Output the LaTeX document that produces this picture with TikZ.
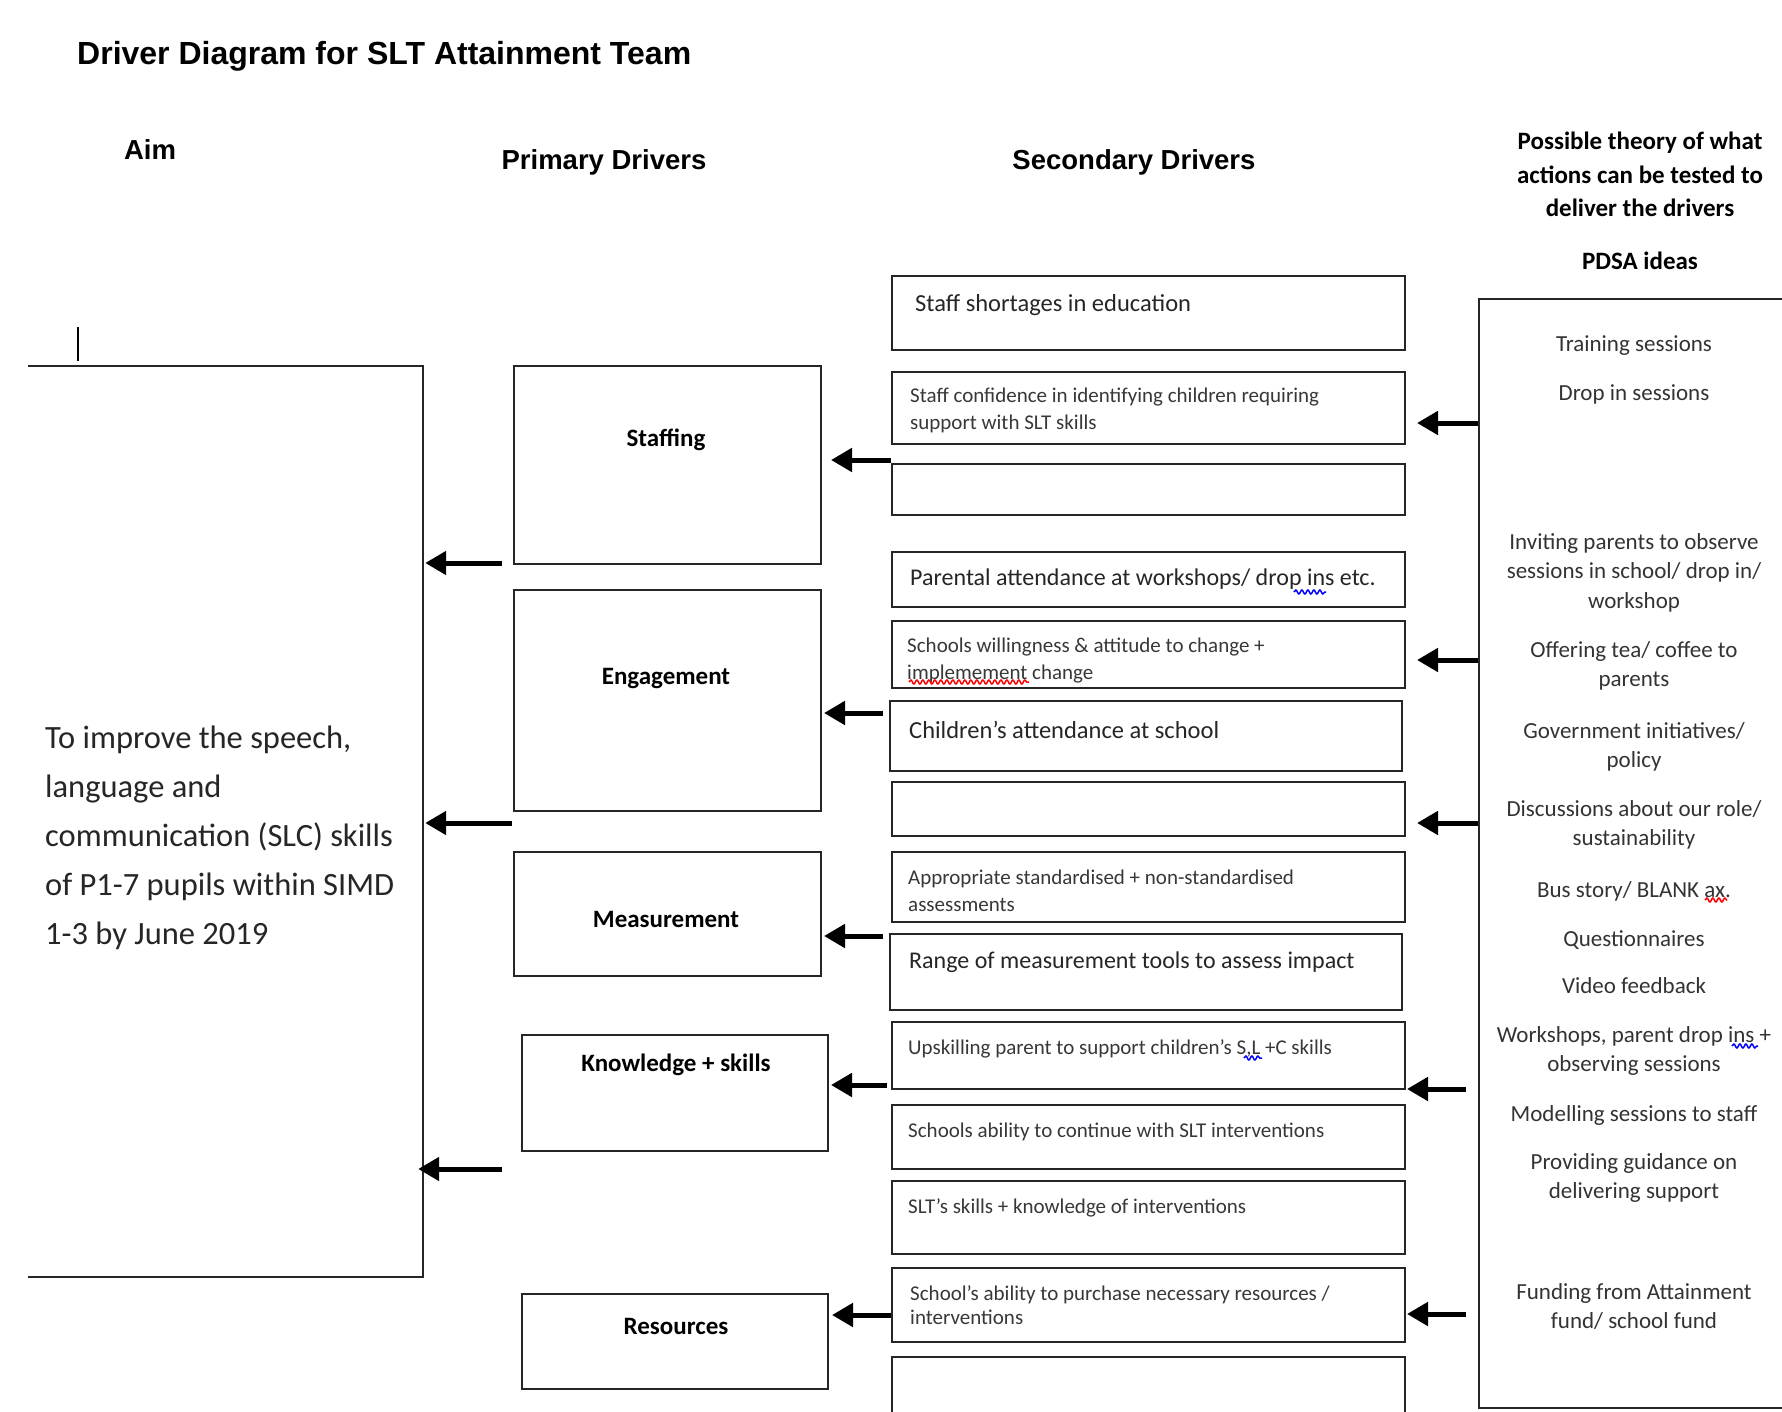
\documentclass[tikz,border=0pt]{standalone}
\usepackage{fontspec}
\setmainfont{Carlito}
\newfontfamily\arialf{Liberation Sans}
\usetikzlibrary{arrows.meta,fit,decorations.pathmorphing}
\newcommand\mybox[5]{\node[boxst, fit={(#2,#3) (#4,#5)}] (#1) {};}
\begin{document}
\begin{tikzpicture}[x=1pt,y=-1pt,
  boxst/.style={draw=black!85, line width=2pt, inner sep=0pt},
  boxline/.style={draw=black!85, line width=2pt},
  arr/.style={line width=5pt, -{Triangle[length=21pt,width=23pt]}},
  heading/.style={font=\arialf\bfseries\fontsize{27.5}{33}\selectfont, inner sep=0pt},
  bigtxt/.style={font=\fontsize{24.5}{29}\selectfont, text=black!85, anchor=west, inner sep=0pt},
  smalltxt/.style={font=\fontsize{21}{27}\selectfont, text=black!78, anchor=north west, align=left, inner sep=0pt},
  plabel/.style={font=\bfseries\fontsize{25}{30}\selectfont, inner sep=0pt},
  pdsatxt/.style={font=\fontsize{23}{29.5}\selectfont, text=black!80, anchor=north, align=center, inner sep=0pt},
  squig/.style={decorate, decoration={snake, amplitude=2pt, segment length=6pt}, line width=1.5pt}
]
\useasboundingbox (0,0) rectangle (1782,1412);
\fill[white] (0,0) rectangle (1782,1412);

% headings
\node[font=\arialf\bfseries\fontsize{32}{38}\selectfont, anchor=west, inner sep=0pt] (title) at (77,56) {Driver Diagram for SLT Attainment Team};
\node[heading] (haim) at (150,150) {Aim};
\node[heading] (hprim) at (604,162) {Primary Drivers};
\node[heading] (hsec) at (1134,162) {Secondary Drivers};
\node[font=\bfseries\fontsize{25}{33.5}\selectfont, align=center, anchor=north, inner sep=0pt] (htheory) at (1640,132) {Possible theory of what\\actions can be tested to\\deliver the drivers};
\node[font=\bfseries\fontsize{25}{30}\selectfont, inner sep=0pt] (hpdsa) at (1640,261) {PDSA ideas};

% cursor
\draw[line width=1.5pt] (78,327) -- (78,361);

% aim box (open on the left)
\node[inner sep=0pt, fit={(28,366) (423,1277)}] (aim) {};
\draw[boxline] (aim.north west) -- (aim.north east) -- (aim.south east) -- (aim.south west);
\node[font=\fontsize{32.5}{49}\selectfont, text=black!85, anchor=north west, align=left, inner sep=0pt] (aimtxt) at (45,726)
  {To improve the speech,\\language and\\communication (SLC) skills\\of P1-7 pupils within SIMD\\1-3 by June 2019};

% primary drivers
\mybox{p1}{514}{366}{821}{564}
\mybox{p2}{514}{590}{821}{811}
\mybox{p3}{514}{852}{821}{976}
\mybox{p4}{522}{1035}{828}{1151}
\mybox{p5}{522}{1294}{828}{1389}
\node[plabel] (l1) at (666,440) {Staffing};
\node[plabel] (l2) at (666,679) {Engagement};
\node[plabel] (l3) at (666,919) {Measurement};
\node[plabel] (l4) at (676,1065) {Knowledge + skills};
\node[plabel] (l5) at (676,1326) {Resources};

% secondary drivers
\mybox{s1}{892}{276}{1405}{350}
\mybox{s2}{892}{372}{1405}{444}
\mybox{s3}{892}{464}{1405}{515}
\mybox{s4}{892}{552}{1405}{607}
\mybox{s5}{892}{621}{1405}{688}
\mybox{s6}{890}{701}{1402}{771}
\mybox{s7}{892}{782}{1405}{836}
\mybox{s8}{892}{852}{1405}{922}
\mybox{s9}{890}{934}{1402}{1010}
\mybox{s10}{892}{1022}{1405}{1089}
\mybox{s11}{892}{1105}{1405}{1169}
\mybox{s12}{892}{1181}{1405}{1254}
\mybox{s13}{892}{1268}{1405}{1342}
\mybox{s14}{892}{1357}{1405}{1430}

\node[bigtxt] (t1) at (915,305) {Staff shortages in education};
\node[smalltxt] (t2) at (910,388) {Staff confidence in identifying children requiring\\support with SLT skills};
\node[bigtxt, font=\fontsize{24}{29}\selectfont] (t4) at (910,579) {Parental attendance at workshops/ drop ins etc.};
\node[smalltxt] (t5) at (907,638) {Schools willingness \& attitude to change +\\implemement change};
\node[bigtxt] (t6) at (909,730) {Children’s attendance at school};
\node[smalltxt] (t8) at (908,870) {Appropriate standardised + non-standardised\\assessments};
\node[bigtxt, font=\fontsize{24}{29}\selectfont] (t9) at (909,962) {Range of measurement tools to assess impact};
\node[smalltxt] (t10) at (908,1039) {Upskilling parent to support children’s S,L +C skills};
\node[smalltxt] (t11) at (908,1123) {Schools ability to continue with SLT interventions};
\node[smalltxt] (t12) at (908,1198) {SLT’s skills + knowledge of interventions};
\node[smalltxt, font=\fontsize{21}{24}\selectfont] (t13) at (910,1285) {School’s ability to purchase necessary resources /\\interventions};

% PDSA box
\node[boxst, fit={(1479,299) (1800,1408)}] (pdsa) {};
\node[pdsatxt] (q1) at (1634,335) {Training sessions};
\node[pdsatxt] (q2) at (1634,384) {Drop in sessions};
\node[pdsatxt] (q3) at (1634,533) {Inviting parents to observe\\sessions in school/ drop in/\\workshop};
\node[pdsatxt] (q4) at (1634,641) {Offering tea/ coffee to\\parents};
\node[pdsatxt] (q5) at (1634,722) {Government initiatives/\\policy};
\node[pdsatxt] (q6) at (1634,800) {Discussions about our role/\\sustainability};
\node[pdsatxt] (q7) at (1634,881) {Bus story/ BLANK ax.};
\node[pdsatxt] (q8) at (1634,930) {Questionnaires};
\node[pdsatxt] (q9) at (1634,977) {Video feedback};
\node[pdsatxt] (q10) at (1634,1026) {Workshops, parent drop ins +\\observing sessions};
\node[pdsatxt] (q11) at (1634,1105) {Modelling sessions to staff};
\node[pdsatxt] (q12) at (1634,1153) {Providing guidance on\\delivering support};
\node[pdsatxt] (q13) at (1634,1283) {Funding from Attainment\\fund/ school fund};

% spelling marks
\draw[squig, blue] (1294,592) -- (1326,592);
\draw[squig, red] (909,682) -- (1029,682);
\draw[squig, red] (1705,900) -- (1727,900);
\draw[squig, blue] (1244,1058) -- (1262,1058);
\draw[squig, blue] (1732,1046) -- (1758,1046);

% arrows: PDSA -> secondary
\draw[arr] (pdsa.west |- 0,423) -- ([xshift=11pt]s2.east |- 0,423);
\draw[arr] (pdsa.west |- 0,660) -- ([xshift=11pt]s5.east |- 0,660);
\draw[arr] (pdsa.west |- 0,823) -- ([xshift=11pt]s7.east |- 0,823);
\draw[arr] ([xshift=-12pt]pdsa.west |- 0,1089) -- ([xshift=1pt]s10.east |- 0,1089);
\draw[arr] ([xshift=-12pt]pdsa.west |- 0,1314) -- ([xshift=1pt]s13.east |- 0,1314);

% arrows: secondary -> primary
\draw[arr] (s3.west |- 0,460) -- ([xshift=9pt]p1.east |- 0,460);
\draw[arr] ([xshift=-6pt]s6.west |- 0,713) -- ([xshift=2pt]p2.east |- 0,713);
\draw[arr] ([xshift=-6pt]s9.west |- 0,936) -- ([xshift=2pt]p3.east |- 0,936);
\draw[arr] ([xshift=-4pt]s10.west |- 0,1085) -- ([xshift=2pt]p4.east |- 0,1085);
\draw[arr] (s13.west |- 0,1315) -- ([xshift=3pt]p5.east |- 0,1315);

% arrows: primary -> aim
\draw[arr] ([xshift=-11pt]p1.west |- 0,563) -- ([xshift=2pt]aim.east |- 0,563);
\draw[arr] ([xshift=-1pt]p2.west |- 0,823) -- ([xshift=2pt]aim.east |- 0,823);
\draw[arr] ([xshift=-19pt]p4.west |- 0,1169) -- ([xshift=-5pt]aim.east |- 0,1169);
\end{tikzpicture}
\end{document}
